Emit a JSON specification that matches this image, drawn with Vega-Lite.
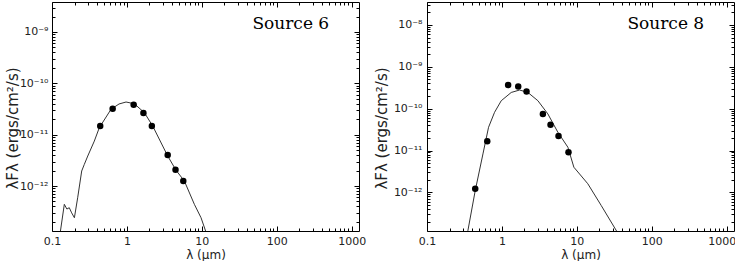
{
  "$schema": "https://vega.github.io/schema/vega-lite/v6.json",
  "padding": {"left": 4, "top": 1, "right": 0, "bottom": 0},
  "background": "#ffffff",
  "config": {
    "view": {"stroke": "#000000", "strokeWidth": 1},
    "axis": {
      "labelFont": "DejaVu Sans", "labelFontSize": 11, "labelColor": "#222222",
      "titleFont": "DejaVu Sans", "titleFontSize": 12, "titleFontWeight": "normal", "titleColor": "#222222",
      "grid": false, "domain": false, "labelFlush": false, "labelOverlap": false, "labelBound": false
    }
  },
  "datasets": {
    "curve6": [
      {"lambda": 0.126, "flux": 1.0e-13}, {"lambda": 0.146, "flux": 4.4e-13}, {"lambda": 0.158, "flux": 3.56e-13},
      {"lambda": 0.170, "flux": 3.78e-13}, {"lambda": 0.183, "flux": 3.0e-13}, {"lambda": 0.199, "flux": 2.41e-13},
      {"lambda": 0.220, "flux": 5.9e-13}, {"lambda": 0.249, "flux": 1.96e-12}, {"lambda": 0.27, "flux": 2.64e-12},
      {"lambda": 0.300, "flux": 3.84e-12}, {"lambda": 0.367, "flux": 7.5e-12}, {"lambda": 0.428, "flux": 1.37e-11},
      {"lambda": 0.613, "flux": 3.12e-11}, {"lambda": 0.784, "flux": 3.96e-11}, {"lambda": 0.973, "flux": 4.33e-11},
      {"lambda": 1.256, "flux": 4.0e-11}, {"lambda": 1.71, "flux": 2.68e-11}, {"lambda": 2.21, "flux": 1.47e-11},
      {"lambda": 3.5, "flux": 3.84e-12}, {"lambda": 4.53, "flux": 2.02e-12}, {"lambda": 5.84, "flux": 1.25e-12},
      {"lambda": 7.94, "flux": 4.4e-13}, {"lambda": 9.75, "flux": 2.41e-13}, {"lambda": 12.0, "flux": 1.0e-13}
    ],
    "phot6": [
      {"lambda": 0.44, "flux": 1.47e-11}, {"lambda": 0.645, "flux": 3.2e-11}, {"lambda": 1.23, "flux": 3.83e-11},
      {"lambda": 1.66, "flux": 2.64e-11}, {"lambda": 2.15, "flux": 1.47e-11}, {"lambda": 3.5, "flux": 4.0e-12},
      {"lambda": 4.45, "flux": 2.07e-12}, {"lambda": 5.65, "flux": 1.25e-12}
    ],
    "label6": [{"lambda": 500, "flux": 1.43e-9, "text": "Source 6"}],
    "curve8": [
      {"lambda": 0.345, "flux": 1.0e-13}, {"lambda": 0.352, "flux": 1.25e-13}, {"lambda": 0.44, "flux": 1.1e-12},
      {"lambda": 0.558, "flux": 8.3e-12}, {"lambda": 0.663, "flux": 3.6e-11}, {"lambda": 0.797, "flux": 8.2e-11},
      {"lambda": 0.979, "flux": 1.55e-10}, {"lambda": 1.33, "flux": 2.44e-10}, {"lambda": 1.72, "flux": 2.79e-10},
      {"lambda": 2.22, "flux": 2.44e-10}, {"lambda": 3.02, "flux": 1.55e-10}, {"lambda": 4.1, "flux": 7.5e-11},
      {"lambda": 5.58, "flux": 2.73e-11}, {"lambda": 7.59, "flux": 1.2e-11}, {"lambda": 9.12, "flux": 4.0e-12},
      {"lambda": 14.0, "flux": 1.61e-12}, {"lambda": 21.1, "flux": 4.9e-13}, {"lambda": 36.0, "flux": 1.0e-13}
    ],
    "phot8": [
      {"lambda": 0.44, "flux": 1.22e-12}, {"lambda": 0.637, "flux": 1.66e-11}, {"lambda": 1.21, "flux": 3.66e-10},
      {"lambda": 1.65, "flux": 3.4e-10}, {"lambda": 2.13, "flux": 2.58e-10}, {"lambda": 3.52, "flux": 7.48e-11},
      {"lambda": 4.45, "flux": 4.16e-11}, {"lambda": 5.69, "flux": 2.24e-11}, {"lambda": 7.73, "flux": 9.1e-12}
    ],
    "label8": [{"lambda": 500, "flux": 1.07e-8, "text": "Source 8"}]
  },
  "bounds": "flush",
  "spacing": 68,
  "hconcat": [
    {
      "width": 307, "height": 229,
      "resolve": {"axis": {"x": "independent", "y": "independent"}},
      "layer": [
        {
          "data": {"name": "curve6"},
          "mark": {"type": "line", "color": "#333333", "strokeWidth": 1, "clip": true},
          "encoding": {
            "x": {"field": "lambda", "type": "quantitative", "scale": {"type": "log", "domain": [0.1, 1250], "nice": false},
                  "axis": {"orient": "bottom", "ticks": false, "values": [0.1, 1, 10, 100, 1000], "labelPadding": 4,
                           "labelExpr": "datum.value < 1 ? '0.1' : format(datum.value, 'd')", "title": "λ (μm)", "titlePadding": 3}},
            "y": {"field": "flux", "type": "quantitative", "scale": {"type": "log", "domain": [1.33e-13, 3.84e-9], "nice": false},
                  "axis": {"orient": "left", "ticks": false, "values": [1e-12, 1e-11, 1e-10, 1e-9], "labelPadding": 4,
                           "labelExpr": "datum.value < 5e-12 ? '10⁻¹²' : datum.value < 5e-11 ? '10⁻¹¹' : datum.value < 5e-10 ? '10⁻¹⁰' : datum.value < 5e-9 ? '10⁻⁹' : '10⁻⁸'",
                           "title": "λFλ (ergs/cm²/s)", "titleFontSize": 15, "titleX": -40, "titleY": 126, "titleAngle": -90, "titleBaseline": "middle", "titleAlign": "center"}}
          }
        },
        {
          "data": {"name": "phot6"},
          "mark": {"type": "point", "filled": true, "color": "#000000", "size": 42, "opacity": 1},
          "encoding": {
            "x": {"field": "lambda", "type": "quantitative", "scale": {"type": "log", "domain": [0.1, 1250], "nice": false},
                  "axis": {"orient": "bottom", "labels": false, "title": null, "tickSize": 3, "offset": -3, "tickColor": "#000000",
                           "values": [0.2,0.3,0.4,0.5,0.6,0.7,0.8,0.9,2,3,4,5,6,7,8,9,20,30,40,50,60,70,80,90,200,300,400,500,600,700,800,900]}},
            "y": {"field": "flux", "type": "quantitative", "scale": {"type": "log", "domain": [1.33e-13, 3.84e-9], "nice": false},
                  "axis": {"orient": "left", "labels": false, "title": null, "tickSize": 3, "offset": -3, "tickColor": "#000000",
                           "values": [2e-13,3e-13,4e-13,5e-13,6e-13,7e-13,8e-13,9e-13,2e-12,3e-12,4e-12,5e-12,6e-12,7e-12,8e-12,9e-12,2e-11,3e-11,4e-11,5e-11,6e-11,7e-11,8e-11,9e-11,2e-10,3e-10,4e-10,5e-10,6e-10,7e-10,8e-10,9e-10,2e-9,3e-9]}}
          }
        },
        {
          "data": {"name": "label6"},
          "mark": {"type": "text", "font": "DejaVu Serif", "fontSize": 17, "align": "right", "baseline": "middle", "color": "#000000"},
          "encoding": {
            "x": {"field": "lambda", "type": "quantitative", "scale": {"type": "log", "domain": [0.1, 1250], "nice": false},
                  "axis": {"orient": "top", "labels": false, "title": null, "tickSize": 5, "offset": -5, "tickColor": "#000000", "values": [0.1, 1, 10, 100, 1000]}},
            "y": {"field": "flux", "type": "quantitative", "scale": {"type": "log", "domain": [1.33e-13, 3.84e-9], "nice": false},
                  "axis": {"orient": "right", "labels": false, "title": null, "tickSize": 5, "offset": -5, "tickColor": "#000000", "values": [1e-12, 1e-11, 1e-10, 1e-9]}},
            "text": {"field": "text", "type": "nominal"}
          }
        },
        {
          "data": {"name": "phot6"},
          "mark": {"type": "point", "filled": true, "color": "#000000", "size": 42, "opacity": 0},
          "encoding": {
            "x": {"field": "lambda", "type": "quantitative", "scale": {"type": "log", "domain": [0.1, 1250], "nice": false},
                  "axis": {"orient": "top", "labels": false, "title": null, "tickSize": 3, "offset": -3, "tickColor": "#000000",
                           "values": [0.2,0.3,0.4,0.5,0.6,0.7,0.8,0.9,2,3,4,5,6,7,8,9,20,30,40,50,60,70,80,90,200,300,400,500,600,700,800,900]}},
            "y": {"field": "flux", "type": "quantitative", "scale": {"type": "log", "domain": [1.33e-13, 3.84e-9], "nice": false},
                  "axis": {"orient": "right", "labels": false, "title": null, "tickSize": 3, "offset": -3, "tickColor": "#000000",
                           "values": [2e-13,3e-13,4e-13,5e-13,6e-13,7e-13,8e-13,9e-13,2e-12,3e-12,4e-12,5e-12,6e-12,7e-12,8e-12,9e-12,2e-11,3e-11,4e-11,5e-11,6e-11,7e-11,8e-11,9e-11,2e-10,3e-10,4e-10,5e-10,6e-10,7e-10,8e-10,9e-10,2e-9,3e-9]}}
          }
        },
        {
          "data": {"name": "phot6"},
          "mark": {"type": "point", "filled": true, "color": "#000000", "size": 42, "opacity": 0},
          "encoding": {
            "x": {"field": "lambda", "type": "quantitative", "scale": {"type": "log", "domain": [0.1, 1250], "nice": false},
                  "axis": {"orient": "bottom", "labels": false, "title": null, "tickSize": 5, "offset": -5, "tickColor": "#000000", "values": [0.1, 1, 10, 100, 1000]}},
            "y": {"field": "flux", "type": "quantitative", "scale": {"type": "log", "domain": [1.33e-13, 3.84e-9], "nice": false},
                  "axis": {"orient": "left", "labels": false, "title": null, "tickSize": 5, "offset": -5, "tickColor": "#000000", "values": [1e-12, 1e-11, 1e-10, 1e-9]}}
          }
        }
      ]
    },
    {
      "width": 307, "height": 229,
      "resolve": {"axis": {"x": "independent", "y": "independent"}},
      "layer": [
        {
          "data": {"name": "curve8"},
          "mark": {"type": "line", "color": "#333333", "strokeWidth": 1, "clip": true},
          "encoding": {
            "x": {"field": "lambda", "type": "quantitative", "scale": {"type": "log", "domain": [0.1, 1250], "nice": false},
                  "axis": {"orient": "bottom", "ticks": false, "values": [0.1, 1, 10, 100, 1000], "labelPadding": 4,
                           "labelAlign": {"condition": {"test": "datum.value > 500", "value": "right"}, "value": "center"},
                           "labelOffset": {"condition": {"test": "datum.value > 500", "value": 9}, "value": 0},
                           "labelExpr": "datum.value < 1 ? '0.1' : format(datum.value, 'd')", "title": "λ (μm)", "titlePadding": 3}},
            "y": {"field": "flux", "type": "quantitative", "scale": {"type": "log", "domain": [1.2e-13, 3.53e-8], "nice": false},
                  "axis": {"orient": "left", "ticks": false, "values": [1e-12, 1e-11, 1e-10, 1e-9, 1e-8], "labelPadding": 5,
                           "labelExpr": "datum.value < 5e-12 ? '10⁻¹²' : datum.value < 5e-11 ? '10⁻¹¹' : datum.value < 5e-10 ? '10⁻¹⁰' : datum.value < 5e-9 ? '10⁻⁹' : '10⁻⁸'",
                           "title": "λFλ (ergs/cm²/s)", "titleFontSize": 15, "titleX": -46, "titleY": 126, "titleAngle": -90, "titleBaseline": "middle", "titleAlign": "center"}}
          }
        },
        {
          "data": {"name": "phot8"},
          "mark": {"type": "point", "filled": true, "color": "#000000", "size": 42, "opacity": 1},
          "encoding": {
            "x": {"field": "lambda", "type": "quantitative", "scale": {"type": "log", "domain": [0.1, 1250], "nice": false},
                  "axis": {"orient": "bottom", "labels": false, "title": null, "tickSize": 3, "offset": -3, "tickColor": "#000000",
                           "values": [0.2,0.3,0.4,0.5,0.6,0.7,0.8,0.9,2,3,4,5,6,7,8,9,20,30,40,50,60,70,80,90,200,300,400,500,600,700,800,900]}},
            "y": {"field": "flux", "type": "quantitative", "scale": {"type": "log", "domain": [1.2e-13, 3.53e-8], "nice": false},
                  "axis": {"orient": "left", "labels": false, "title": null, "tickSize": 3, "offset": -3, "tickColor": "#000000",
                           "values": [2e-13,3e-13,4e-13,5e-13,6e-13,7e-13,8e-13,9e-13,2e-12,3e-12,4e-12,5e-12,6e-12,7e-12,8e-12,9e-12,2e-11,3e-11,4e-11,5e-11,6e-11,7e-11,8e-11,9e-11,2e-10,3e-10,4e-10,5e-10,6e-10,7e-10,8e-10,9e-10,2e-9,3e-9,4e-9,5e-9,6e-9,7e-9,8e-9,9e-9,2e-8,3e-8]}}
          }
        },
        {
          "data": {"name": "label8"},
          "mark": {"type": "text", "font": "DejaVu Serif", "fontSize": 17, "align": "right", "baseline": "middle", "color": "#000000"},
          "encoding": {
            "x": {"field": "lambda", "type": "quantitative", "scale": {"type": "log", "domain": [0.1, 1250], "nice": false},
                  "axis": {"orient": "top", "labels": false, "title": null, "tickSize": 5, "offset": -5, "tickColor": "#000000", "values": [0.1, 1, 10, 100, 1000]}},
            "y": {"field": "flux", "type": "quantitative", "scale": {"type": "log", "domain": [1.2e-13, 3.53e-8], "nice": false},
                  "axis": {"orient": "right", "labels": false, "title": null, "tickSize": 5, "offset": -5, "tickColor": "#000000", "values": [1e-12, 1e-11, 1e-10, 1e-9, 1e-8]}},
            "text": {"field": "text", "type": "nominal"}
          }
        },
        {
          "data": {"name": "phot8"},
          "mark": {"type": "point", "filled": true, "color": "#000000", "size": 42, "opacity": 0},
          "encoding": {
            "x": {"field": "lambda", "type": "quantitative", "scale": {"type": "log", "domain": [0.1, 1250], "nice": false},
                  "axis": {"orient": "top", "labels": false, "title": null, "tickSize": 3, "offset": -3, "tickColor": "#000000",
                           "values": [0.2,0.3,0.4,0.5,0.6,0.7,0.8,0.9,2,3,4,5,6,7,8,9,20,30,40,50,60,70,80,90,200,300,400,500,600,700,800,900]}},
            "y": {"field": "flux", "type": "quantitative", "scale": {"type": "log", "domain": [1.2e-13, 3.53e-8], "nice": false},
                  "axis": {"orient": "right", "labels": false, "title": null, "tickSize": 3, "offset": -3, "tickColor": "#000000",
                           "values": [2e-13,3e-13,4e-13,5e-13,6e-13,7e-13,8e-13,9e-13,2e-12,3e-12,4e-12,5e-12,6e-12,7e-12,8e-12,9e-12,2e-11,3e-11,4e-11,5e-11,6e-11,7e-11,8e-11,9e-11,2e-10,3e-10,4e-10,5e-10,6e-10,7e-10,8e-10,9e-10,2e-9,3e-9,4e-9,5e-9,6e-9,7e-9,8e-9,9e-9,2e-8,3e-8]}}
          }
        },
        {
          "data": {"name": "phot8"},
          "mark": {"type": "point", "filled": true, "color": "#000000", "size": 42, "opacity": 0},
          "encoding": {
            "x": {"field": "lambda", "type": "quantitative", "scale": {"type": "log", "domain": [0.1, 1250], "nice": false},
                  "axis": {"orient": "bottom", "labels": false, "title": null, "tickSize": 5, "offset": -5, "tickColor": "#000000", "values": [0.1, 1, 10, 100, 1000]}},
            "y": {"field": "flux", "type": "quantitative", "scale": {"type": "log", "domain": [1.2e-13, 3.53e-8], "nice": false},
                  "axis": {"orient": "left", "labels": false, "title": null, "tickSize": 5, "offset": -5, "tickColor": "#000000", "values": [1e-12, 1e-11, 1e-10, 1e-9, 1e-8]}}
          }
        }
      ]
    }
  ]
}
